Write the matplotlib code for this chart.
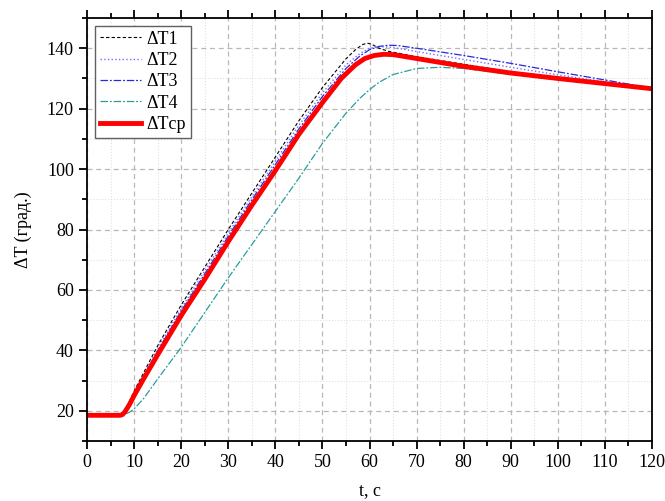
import matplotlib
matplotlib.use("Agg")
import matplotlib.pyplot as plt
from matplotlib.ticker import MultipleLocator

plt.rcParams['font.family'] = ['Liberation Serif', 'DejaVu Serif']

# время, с
t1 = [0, 6, 7, 7.5, 8, 9, 10, 12, 15, 20, 25, 30, 35, 40, 45, 50, 55, 57, 58.5, 59.5, 60.5, 62, 64, 66, 70, 80, 90, 100, 110, 120]
T1 = [18.5, 18.5, 18.5, 18.8, 20, 23, 26.5, 32.5, 41.5, 55, 67.5, 80, 92, 104, 116, 127, 136.5, 139.5, 141.2, 141.7, 141.3, 140, 139, 138.4, 137.2, 134.7, 132.2, 130.1, 128.3, 126.6]

t2 = [0, 6, 7, 7.5, 8, 9, 10, 12, 15, 20, 25, 30, 35, 40, 45, 50, 55, 58, 60, 62, 64, 66, 70, 80, 90, 100, 110, 120]
T2 = [18.5, 18.5, 18.5, 18.7, 19.7, 22.5, 25.8, 31.8, 40.5, 53.8, 66.3, 78.8, 90.8, 102.6, 114.5, 125.2, 134.5, 138.3, 140, 140.5, 140.4, 140, 138.9, 136.3, 133.7, 131.2, 128.9, 126.7]

t3 = [0, 6, 7, 7.5, 8, 9, 10, 12, 15, 20, 25, 30, 35, 40, 45, 50, 55, 58, 60, 62, 64, 66, 70, 80, 90, 100, 110, 120]
T3 = [18.5, 18.5, 18.5, 18.7, 19.6, 22.2, 25.4, 31.2, 39.8, 53, 65.3, 77.8, 89.8, 101.5, 113.3, 124, 133.3, 137.5, 139.5, 140.6, 141, 140.9, 140, 137.6, 135, 132.2, 129.5, 126.8]

t4 = [0, 6, 7, 8, 9, 10, 12, 15, 20, 25, 30, 35, 40, 45, 50, 55, 58, 60, 62, 65, 70, 75, 80, 90, 100, 110, 120]
T4 = [18.5, 18.5, 18.5, 18.8, 19.5, 20.6, 24, 30.5, 41, 52.5, 64, 75, 86, 97, 108.5, 118.5, 123.5, 126.3, 128.7, 131.3, 133.3, 133.7, 133.3, 131.4, 129.6, 128, 126.5]

tcp = [0, 6, 7, 7.5, 8, 9, 10, 12, 15, 20, 25, 30, 35, 40, 45, 50, 54, 57, 59, 61, 63, 65, 70, 80, 90, 100, 110, 120]
Tcp = [18.5, 18.5, 18.5, 18.7, 19.5, 22, 25, 30.5, 38.5, 51.5, 63.5, 76, 88, 99.5, 111.5, 122, 130, 134.5, 136.6, 137.6, 138, 137.9, 136.6, 134, 131.8, 130, 128.3, 126.6]

fig = plt.figure(figsize=(6.65, 5.01), dpi=100)
ax = fig.add_axes([0.1308, 0.1198, 0.8497, 0.8442])

ax.plot(t1, T1, color='black', linestyle='--', dashes=(3, 2), linewidth=0.8, label='ΔT1')
ax.plot(t2, T2, color='#7070ff', linestyle=':', linewidth=1.0, label='ΔT2')
ax.plot(t3, T3, color='#2828e0', linestyle='-.', dashes=(6, 1.5, 1.5, 1.5), linewidth=0.9, label='ΔT3')
ax.plot(t4, T4, color='#2a9d9d', linestyle='-.', dashes=(6, 1.5, 1.5, 1.5), linewidth=0.9, label='ΔT4')
ax.plot(tcp, Tcp, color='red', linewidth=3.5, label='ΔTср')

ax.set_xlim(0, 120)
ax.set_ylim(10, 150)
ax.xaxis.set_major_locator(MultipleLocator(10))
ax.xaxis.set_minor_locator(MultipleLocator(5))
ax.yaxis.set_major_locator(MultipleLocator(20))
ax.yaxis.set_minor_locator(MultipleLocator(10))

ax.grid(which='major', color='#b8b8b8', linestyle='--', dashes=(4, 3), linewidth=0.9)
ax.grid(which='minor', color='#e0e0e0', linestyle=':', linewidth=0.8)
ax.set_axisbelow(True)

ax.tick_params(which='both', direction='out', top=True, width=1.3, labelsize=13)
ax.tick_params(which='major', length=6)
ax.tick_params(which='minor', length=3.5)
for s in ax.spines.values():
    s.set_linewidth(1.3)

ax.set_xlabel('t, c', fontsize=13)
ax.set_ylabel('ΔT (град.)', fontsize=13)
ax.yaxis.set_label_coords(-0.098, 0.5)
ax.xaxis.set_label_coords(0.5, -0.098)

leg = ax.legend(loc='upper left', fontsize=13, handlelength=2.3, borderaxespad=0.45,
                labelspacing=0.24, fancybox=False, edgecolor='#606060', framealpha=1,
                handletextpad=0.3, borderpad=0.25)
leg.get_frame().set_linewidth(1.0)

fig.savefig('out.png', dpi=100)
